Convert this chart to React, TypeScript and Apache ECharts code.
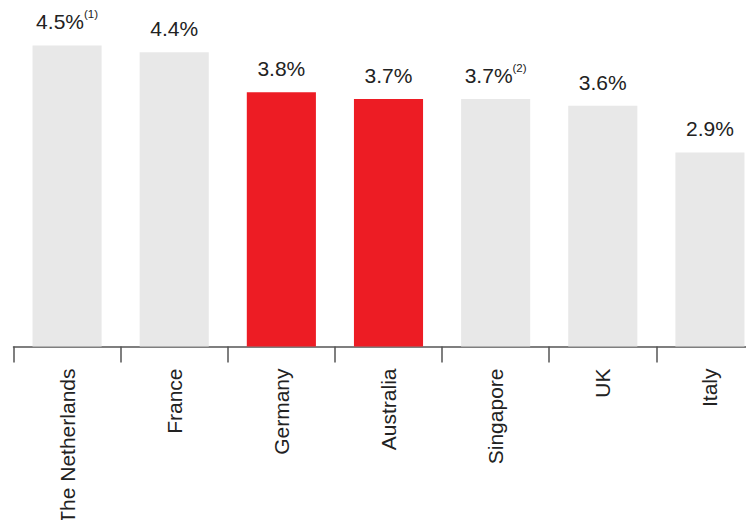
import React, { useEffect, useRef } from "react";
import * as echarts from "echarts";

const categories = ["The Netherlands", "France", "Germany", "Australia", "Singapore", "UK", "Italy"];
const values = [4.5, 4.4, 3.8, 3.7, 3.7, 3.6, 2.9];
const footnotes = ["(1)", "", "", "", "(2)", "", ""];
const highlighted = [false, false, true, true, false, false, false];

const GRAY = "#e8e8e8";
const RED = "#ed1c24";
const FONT = "'Liberation Sans', Arial, sans-serif";

export default function App() {
  const ref = useRef<HTMLDivElement>(null);
  useEffect(() => {
    if (!ref.current) return;
    const chart = echarts.init(ref.current, undefined, { renderer: "svg" });
    chart.setOption({
      animation: false,
      grid: {
        left: 13.5,
        width: 750,
        top: 12,
        height: 334.5,
        containLabel: false,
        outerBoundsMode: "none",
      },
      xAxis: {
        type: "category",
        data: categories,
        axisLine: { lineStyle: { color: "#555", width: 1.5 } },
        axisTick: { show: true, length: 16, lineStyle: { color: "#555", width: 1.5 } },
        axisLabel: {
          rotate: 90,
          margin: 22,
          fontSize: 21,
          color: "#222",
          fontFamily: FONT,
          interval: 0,
        },
      },
      yAxis: { type: "value", min: 0, max: 5, show: false, splitLine: { show: false } },
      series: [
        {
          type: "bar",
          barWidth: "64.5%",
          data: values.map((v, i) => ({
            value: v,
            itemStyle: { color: highlighted[i] ? RED : GRAY },
          })),
          label: {
            show: true,
            position: "top",
            distance: 13,
            fontFamily: FONT,
            formatter: (p: any) => {
              const fn = footnotes[p.dataIndex];
              return `{v|${values[p.dataIndex].toFixed(1)}%}` + (fn ? `{s|${fn}}` : "");
            },
            rich: {
              v: { fontSize: 21, color: "#222", fontFamily: FONT, verticalAlign: "bottom", lineHeight: 24 },
              s: { fontSize: 11.5, color: "#222", fontFamily: FONT, verticalAlign: "top", lineHeight: 24, padding: [0, 0, 7, 0] },
            },
          },
        },
      ],
    });
    return () => chart.dispose();
  }, []);
  return <div ref={ref} style={{ width: 754, height: 528, margin: -8 }} />;
}
